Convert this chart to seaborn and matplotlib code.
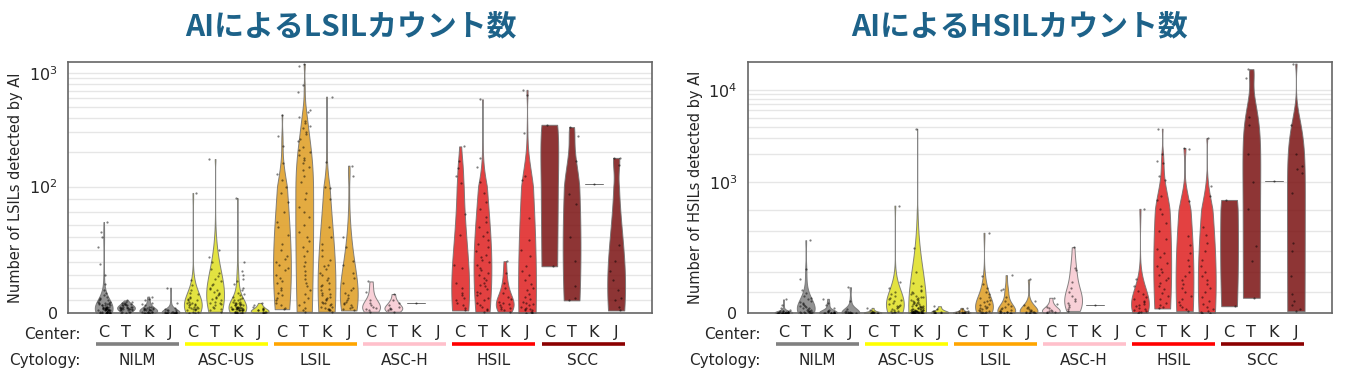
import pandas as pd
import seaborn as sns
import matplotlib.pyplot as plt
from matplotlib.ticker import FixedLocator, NullFormatter
from matplotlib.transforms import blended_transform_factory

cytologies = ["NILM", "ASC-US", "LSIL", "ASC-H", "HSIL", "SCC"]
centers = ["C", "T", "K", "J"]
cyto_colors = ["gray", "yellow", "orange", "pink", "red", "darkred"]

# AI-detected LSIL counts per case; each cytology holds lists for centers C, T, K, J
lsil_nilm = [
    [72, 64, 60, 52, 39, 30, 23, 18, 16, 14, 13, 12, 11, 10, 10, 9, 9, 8, 8, 8, 7, 7, 7, 6, 6, 6, 6, 5, 5, 5,
     5, 5, 4, 4, 4, 4, 4, 4, 3, 3, 3, 3, 3, 3, 3, 2, 2, 2, 2, 2, 2, 2, 2, 1, 1, 1, 1, 1, 1, 1, 1, 1,
     0, 0, 0, 0, 0, 0, 0, 0],
    [10, 9, 9, 8, 8, 7, 7, 7, 6, 6, 6, 6, 5, 5, 5, 5, 5, 4, 4, 4, 4, 4, 3, 3, 3, 3, 3, 2, 2, 2, 2, 1, 1, 1, 0, 0],
    [13, 11, 10, 8, 7, 6, 5, 5, 4, 4, 4, 3, 3, 3, 3, 2, 2, 2, 2, 2, 1, 1, 1, 1, 1, 0, 0, 0, 0, 0],
    [20, 8, 4, 3, 2, 2, 2, 1, 1, 1, 1, 1, 1, 0, 0, 0, 0, 0, 0, 0, 0, 0, 0],
]
lsil_ascus = [
    [95, 26, 22, 18, 16, 15, 13, 12, 11, 10, 10, 9, 8, 8, 7, 7, 6, 6, 5, 5, 5, 4, 4, 3, 3, 3, 2, 2, 1, 1, 0, 0],
    [175, 50, 44, 40, 35, 32, 29, 27, 25, 23, 22, 20, 19, 18, 17, 16, 15, 14, 13, 12, 11, 10, 9, 8, 8, 7, 6, 5,
     4, 3, 2, 1],
    [91, 40, 33, 30, 27, 25, 23, 20, 18, 16, 15, 14, 13, 12, 11, 10, 10, 9, 9, 8, 8, 8, 7, 7, 7, 6, 6, 6, 6, 5,
     5, 5, 5, 5, 4, 4, 4, 4, 4, 4, 3, 3, 3, 3, 3, 3, 2, 2, 2, 2, 2, 2, 1, 1, 1, 1, 1, 0, 0, 0, 0, 0],
    [8, 6, 5, 4, 3, 3, 2, 2, 2, 1, 1, 1, 0, 0],
]
lsil_lsil = [
    [430, 280, 230, 160, 130, 115, 100, 95, 88, 80, 72, 68, 62, 55, 50, 45, 43, 40, 38, 36, 34, 30, 28, 25, 24,
     20, 18, 16, 14, 12, 10, 8, 6, 4, 3],
    [1200, 1150, 780, 685, 470, 455, 410, 380, 360, 340, 330, 305, 290, 260, 250, 225, 210, 200, 190, 180, 170,
     160, 150, 140, 123, 110, 95, 90, 84, 80, 76, 70, 64, 60, 57, 52, 49, 45, 40, 37, 33, 30, 27, 24, 21, 18,
     15, 12, 9, 6, 4, 2, 1],
    [620, 165, 100, 99, 90, 68, 60, 55, 50, 45, 42, 38, 37, 35, 32, 30, 28, 26, 24, 22, 21, 19, 18, 16, 15, 14,
     13, 12, 11, 10, 9, 8, 8, 7, 6, 5, 5, 4, 3, 3, 2, 2, 1],
    [153, 123, 60, 52, 41, 38, 32, 28, 24, 20, 18, 16, 14, 12, 10, 9, 8, 7, 6, 5, 4, 3, 2],
]
lsil_asch = [
    [25, 17, 10, 8, 6, 5, 4, 3, 2, 1],
    [15, 10, 8, 6, 5, 4, 3, 3, 2, 1],
    [8],
    [],
]
lsil_hsil = [
    [226, 169, 146, 123, 108, 78, 62, 38, 36, 24, 20, 16, 14, 12, 10, 8, 6, 4, 2],
    [587, 180, 150, 110, 95, 88, 82, 76, 72, 68, 64, 61, 58, 55, 52, 49, 46, 44, 42, 40, 38, 36, 34, 32, 30,
     28, 26, 24, 22, 21, 19, 17, 16, 14, 12, 10, 8, 6, 5, 3, 2, 1],
    [41, 32, 24, 20, 16, 13, 11, 9, 8, 7, 6, 5, 4, 3, 2, 1],
    [710, 640, 295, 123, 115, 75, 58, 50, 45, 37, 33, 30, 26, 23, 20, 18, 15, 13, 11, 9, 8, 7, 6, 5, 4, 3, 3,
     2, 2, 1, 1, 0, 0],
]
lsil_scc = [
    [37, 350],
    [334, 280, 167, 94, 86, 60, 41, 21, 12, 10],
    [106],
    [179, 177, 156, 54, 41, 33, 26, 18, 12, 10, 5, 2],
]

# AI-detected HSIL counts per case
hsil_nilm = [
    [66, 40, 25, 15, 12, 10, 8, 6, 5, 4, 3, 3, 2, 2, 2, 1, 1, 1, 1, 0, 0, 0, 0, 0, 0, 0, 0, 0],
    [354, 216, 166, 110, 95, 85, 75, 68, 60, 55, 50, 45, 40, 36, 32, 28, 25, 22, 19, 16, 14, 12, 10, 8, 6, 5,
     4, 3, 2, 1, 0, 0],
    [69, 50, 40, 25, 15, 10, 8, 6, 4, 3, 2, 2, 1, 1, 0, 0, 0, 0, 0],
    [125, 60, 20, 10, 6, 4, 3, 2, 1, 1, 0, 0, 0, 0, 0],
]
hsil_ascus = [
    [25, 15, 10, 6, 4, 3, 2, 1, 1, 0, 0, 0, 0],
    [560, 150, 120, 100, 90, 82, 75, 68, 62, 56, 50, 45, 40, 36, 32, 28, 24, 20, 16, 12, 9, 6, 4, 2],
    [3800, 317, 199, 147, 130, 114, 105, 100, 95, 90, 85, 80, 76, 72, 68, 65, 62, 58, 55, 52, 50, 47, 45, 42,
     40, 38, 36, 34, 32, 30, 28, 27, 25, 24, 22, 21, 20, 18, 17, 16, 15, 14, 13, 12, 12, 11, 10, 10, 9, 9, 8,
     8, 7, 7, 6, 6, 5, 5, 5, 4, 4, 4, 3, 3, 3, 3, 2, 2, 2, 2, 1, 1, 1, 1, 1, 0, 0, 0, 0, 0],
    [33, 20, 12, 8, 5, 3, 2, 1, 0, 0],
]
hsil_lsil = [
    [25, 18, 12, 8, 6, 4, 3, 2, 2, 1, 1, 0, 0, 0],
    [390, 179, 140, 120, 100, 90, 80, 72, 65, 58, 52, 46, 40, 35, 30, 26, 22, 18, 15, 12, 9, 6, 4, 2, 1, 0],
    [184, 119, 110, 80, 60, 45, 35, 28, 22, 17, 13, 10, 8, 6, 4, 3, 2, 1, 0, 0],
    [163, 60, 40, 30, 24, 19, 15, 12, 9, 7, 5, 3, 2, 1, 0, 0],
]
hsil_asch = [
    [74, 45, 30, 22, 16, 12, 8, 5, 3, 1],
    [320, 220, 210, 152, 120, 100, 85, 70, 60, 50, 40, 30, 20, 10],
    [38],
    [],
]
hsil_hsil = [
    [517, 163, 130, 105, 90, 80, 70, 60, 52, 45, 38, 32, 26, 20, 15, 10, 6, 3, 1],
    [3800, 2040, 1680, 1600, 1180, 1050, 705, 650, 509, 480, 438, 400, 360, 309, 290, 270, 244, 230, 215, 200,
     185, 170, 160, 147, 130, 115, 98, 85, 70, 51, 40, 30, 22],
    [2345, 2300, 624, 374, 330, 290, 260, 228, 200, 180, 160, 140, 120, 100, 85, 70, 55, 40, 28, 18, 9],
    [3000, 905, 705, 420, 380, 340, 300, 260, 230, 200, 179, 160, 140, 120, 100, 80, 60, 45, 30, 20, 10, 5, 2, 0],
]
hsil_scc = [
    [33, 645],
    [16700, 13400, 5130, 4170, 2020, 1000, 521, 325, 255, 74],
    [1030],
    [19200, 4170, 2020, 1505, 1400, 1260, 770, 338, 301, 182, 90, 60, 40, 20, 9],
]

lsil_groups = [lsil_nilm, lsil_ascus, lsil_lsil, lsil_asch, lsil_hsil, lsil_scc]
hsil_groups = [hsil_nilm, hsil_ascus, hsil_lsil, hsil_asch, hsil_hsil, hsil_scc]

order = [f"{c}|{k}" for c in cytologies for k in centers]
palette = {f"{c}|{k}": col for c, col in zip(cytologies, cyto_colors) for k in centers}


def to_frame(groups):
    rows = []
    for cyto, per_center in zip(cytologies, groups):
        for center, vals in zip(centers, per_center):
            for v in vals:
                rows.append((f"{cyto}|{center}", v))
    return pd.DataFrame(rows, columns=["slot", "count"])


panels = [
    (lsil_groups, "AIによるLSILカウント数", "Number of LSILs detected by AI", 100, 1250,
     [0, 100, 1000], list(range(10, 100, 10)) + list(range(200, 1000, 100))),
    (hsil_groups, "AIによるHSILカウント数", "Number of HSILs detected by AI", 500, 20000,
     [0, 1000, 10000], [100, 200, 300, 400, 500] + list(range(2000, 10000, 1000))),
]

sns.set_style("white")
plt.rcParams["font.family"] = ["DejaVu Sans"]

fig = plt.figure(figsize=(13.45, 3.81), dpi=100)
ax_lefts = [0.0506, 0.556]
title_x = [0.261, 0.758]

for (groups, title, ylabel, linthresh, ytop, majors, minors), left, tx in zip(panels, ax_lefts, title_x):
    ax = fig.add_axes([left, 0.1785, 0.434, 0.659])
    df = to_frame(groups)
    sns.violinplot(data=df, x="slot", y="count", hue="slot", order=order, hue_order=order,
                   palette=palette, legend=False, dodge=False, cut=0, inner=None,
                   density_norm="width", width=0.8, linewidth=0.7, linecolor="#707070",
                   saturation=0.75, alpha=0.85, ax=ax)
    sns.stripplot(data=df, x="slot", y="count", order=order, color="black", size=1.6,
                  alpha=0.5, jitter=0.28, ax=ax)

    ax.set_yscale("symlog", linthresh=linthresh, linscale=1)
    ax.set_ylim(0, ytop)
    ax.set_xlim(-1.6, 24.6)
    ax.yaxis.set_major_locator(FixedLocator(majors))
    ax.yaxis.set_minor_locator(FixedLocator(minors))
    ax.yaxis.set_minor_formatter(NullFormatter())
    ax.grid(axis="y", which="both", color="#e6e6e6", lw=1)
    ax.set_axisbelow(True)
    ax.tick_params(axis="y", which="major", labelsize=11.5, length=4, color="#555555")
    ax.tick_params(axis="y", which="minor", length=2.5, color="#555555")
    ax.set_xticks(range(len(order)))
    ax.set_xticklabels(centers * len(cytologies))
    ax.tick_params(axis="x", labelsize=11.5, length=4, pad=5, color="#555555")
    ax.set_xlabel("")
    ax.set_ylabel(ylabel, fontsize=10.5)
    for sp in ax.spines.values():
        sp.set_color("#666666")
        sp.set_linewidth(1.2)

    trans = blended_transform_factory(ax.transData, ax.transAxes)
    for i, (cyto, col) in enumerate(zip(cytologies, cyto_colors)):
        ax.plot([i * 4 - 0.35, i * 4 + 3.38], [-0.124, -0.124], color=col, lw=2.6,
                transform=trans, clip_on=False, solid_capstyle="butt")
        ax.text(i * 4 + 1.5, -0.19, cyto, transform=trans, ha="center", va="center", fontsize=11)
    ax.text(0.022, -0.084, "Center:", transform=ax.transAxes, ha="right", va="center", fontsize=11)
    ax.text(0.022, -0.19, "Cytology:", transform=ax.transAxes, ha="right", va="center", fontsize=11)

    fig.text(tx, 0.932, title, ha="center", va="center", fontsize=21.5, fontweight="bold",
             color="#1d6289", family=["Noto Sans CJK JP", "DejaVu Sans"])

fig.savefig("out.png", dpi=100)
